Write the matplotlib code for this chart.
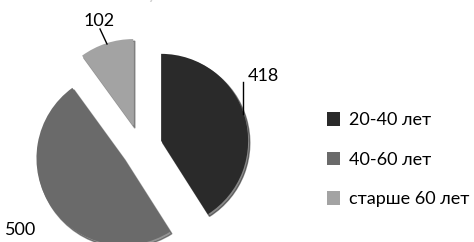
import matplotlib.pyplot as plt
from matplotlib.patches import Patch

plt.rcParams['font.family'] = ['Lato', 'DejaVu Sans']

groups = ['20-40 лет', '40-60 лет', 'старше 60 лет']
counts = [418, 500, 102]
colors = ['#2a2a2a', '#6a6a6a', '#a3a3a3']

fig = plt.figure(figsize=(4.74, 2.42), dpi=100)
ax = fig.add_axes([0, 0, 1, 1])

wedges, _ = ax.pie(counts, colors=colors, startangle=90, counterclock=False,
                   center=(140, 95), radius=87, explode=[22, 20, 22],
                   shadow={'ox': 1.2, 'oy': -1.5, 'shade': 0.6},
                   frame=True)
ax.set_xlim(0, 474)
ax.set_ylim(0, 242)
ax.set_aspect('equal')
ax.axis('off')

# faint title, cut off at the top edge as in the original
ax.text(175, 248, 'мужчины', fontsize=13, ha='center', va='center',
        color='#d0d0d0')

# value labels with leader lines
ax.text(263, 166, str(counts[0]), fontsize=13, ha='center', va='center')
ax.plot([243, 243], [160, 128], color='black', lw=1)
ax.text(21, 12, str(counts[1]), fontsize=13, ha='center', va='center')
ax.text(99, 221, str(counts[2]), fontsize=13, ha='center', va='center')
ax.plot([100, 107], [213, 198], color='black', lw=1)

handles = [Patch(facecolor=c, edgecolor='none') for c in colors]
fig.legend(handles, groups, loc='center left', bbox_to_anchor=(0.655, 0.34),
           frameon=False, fontsize=13, handlelength=0.75, handleheight=0.75,
           handletextpad=0.5, labelspacing=1.3)

fig.savefig('out.png', dpi=100)
